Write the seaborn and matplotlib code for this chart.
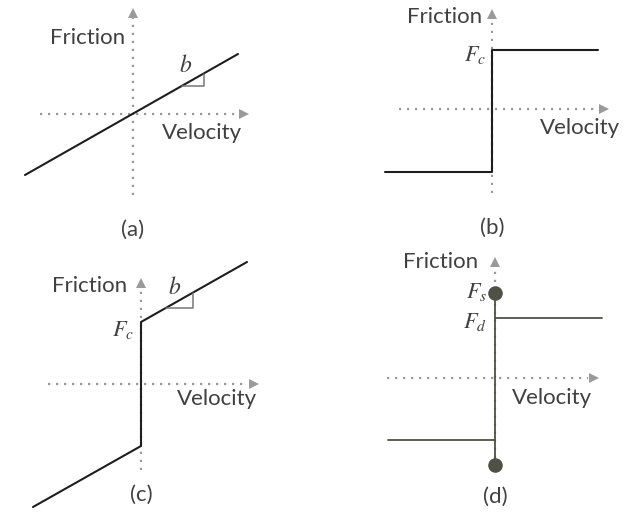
import matplotlib
matplotlib.use("Agg")
import matplotlib.pyplot as plt
import seaborn as sns
import pandas as pd

sns.set_theme(style="white")
plt.rcParams['font.family'] = ['Lato', 'DejaVu Sans']

# ---- data (units: velocity / friction, relative to origin) ----
# (a) viscous friction
a_vel = [-108, 105]
a_fric = [-61, 60]
# (b) Coulomb friction
b_vel = [-107, 0, 0, 106]
b_fric = [-63, -63, 59, 59]
# (c) Coulomb + viscous
c_vel = [-108, 0, 0, 106]
c_fric = [-123, -62, 62, 122]
# (d) static + dynamic
d_vert_vel = [0, 0]
d_vert_fric = [85, -87]
d_up_vel = [0, 107]
d_up_fric = [60, 60]
d_lo_vel = [-107, 0]
d_lo_fric = [-62, -62]
d_dot_vel = [0, 0]
d_dot_fric = [85, -87]

panel_labels = ["(a)", "(b)", "(c)", "(d)"]

W, H = 630, 513
fig = plt.figure(figsize=(W / 100, H / 100), dpi=100)

AX_COL = "#9a9a9a"
TXT_COL = "#404040"
LINE_COL = "#1e1e1e"


def make_ax(x0, y0, w, h, ox, oy):
    ax = fig.add_axes([x0 / W, (H - y0 - h) / H, w / W, h / H])
    ax.set_xlim(x0 - ox, x0 + w - ox)
    ax.set_ylim(oy - (y0 + h), oy - y0)
    ax.axis("off")
    return ax


def draw_axes(ax, xlo, xhi, xarrow, ylo, yhi, yarrow):
    ax.plot([xlo, xhi], [0, 0], color=AX_COL, lw=1.6, ls=(0, (1, 2.6)),
            dash_capstyle="butt", zorder=1)
    ax.plot([0, 0], [ylo, yhi], color=AX_COL, lw=1.6, ls=(0, (1, 2.6)),
            dash_capstyle="butt", zorder=1)
    ax.plot([xarrow], [0], marker=">", color=AX_COL, ms=7, mew=0, zorder=1)
    ax.plot([0], [yarrow], marker="^", color=AX_COL, ms=7, mew=0, zorder=1)


def label_text(ax, fric_xy, vel_xy, lab_xy, lab):
    ax.text(*fric_xy, "Friction", ha="right", va="center", fontsize=16, color=TXT_COL)
    ax.text(*vel_xy, "Velocity", ha="left", va="center", fontsize=16, color=TXT_COL)
    ax.text(*lab_xy, lab, ha="center", va="center", fontsize=16, color=TXT_COL)


def math(ax, x, y, s, ha="right", size=16):
    ax.text(x, y, s, ha=ha, va="center", fontsize=size, color=TXT_COL, math_fontfamily="stix")


# ---- (a) ----
ax = make_ax(0, 0, 315, 256, 133, 114)
draw_axes(ax, -93, 105, 111, -81, 97, 101)
sns.lineplot(x=a_vel, y=a_fric, ax=ax, color=LINE_COL, lw=1.5, sort=False, estimator=None)
slope_a = (a_fric[1] - a_fric[0]) / (a_vel[1] - a_vel[0])
ax.plot([28 / slope_a, 71, 71], [28, 28, 71 * slope_a], color="#777777", lw=1.1)
math(ax, 53, 49, r"$b$", ha="center", size=17)
label_text(ax, (-8, 76), (29, -19), (0, -116), panel_labels[0])

# ---- (b) ----
ax = make_ax(315, 0, 315, 256, 492, 109)
draw_axes(ax, -93, 106, 112, -84, 91, 95)
sns.lineplot(x=b_vel, y=b_fric, ax=ax, color=LINE_COL, lw=1.5, sort=False, estimator=None)
math(ax, -6, 54, r"$F_c$")
label_text(ax, (-10, 92), (48, -19), (0, -119), panel_labels[1])

# ---- (c) ----
ax = make_ax(0, 256, 315, 257, 141, 384)
draw_axes(ax, -93, 107, 113, -86, 97, 101)
sns.lineplot(x=c_vel, y=c_fric, ax=ax, color=LINE_COL, lw=1.5, sort=False, estimator=None)
slope_c = (c_fric[3] - c_fric[2]) / (c_vel[3] - c_vel[2])
ax.plot([(76 - c_fric[2]) / slope_c, 52, 52], [76, 76, c_fric[2] + 52 * slope_c],
        color="#777777", lw=1.1)
math(ax, 34, 97, r"$b$", ha="center", size=17)
math(ax, -7, 54, r"$F_c$")
label_text(ax, (-14, 98), (36, -15), (0, -111), panel_labels[2])

# ---- (d) ----
ax = make_ax(315, 256, 315, 257, 495, 378)
draw_axes(ax, -108, 93, 99, -80, 112, 116)
D_COL = "#4f5046"
sns.lineplot(x=d_vert_vel, y=d_vert_fric, ax=ax, color=D_COL, lw=1.3, sort=False, estimator=None)
sns.lineplot(x=d_up_vel, y=d_up_fric, ax=ax, color=D_COL, lw=1.3, sort=False, estimator=None)
sns.lineplot(x=d_lo_vel, y=d_lo_fric, ax=ax, color=D_COL, lw=1.3, sort=False, estimator=None)
sns.scatterplot(x=d_dot_vel, y=d_dot_fric, ax=ax, color=D_COL, s=110, linewidth=0, zorder=5)
math(ax, -8, 86, r"$F_s$")
math(ax, -8, 56, r"$F_d$")
label_text(ax, (-17, 116), (17, -20), (0, -119), panel_labels[3])

fig.savefig("out.png", dpi=100, facecolor="white")
